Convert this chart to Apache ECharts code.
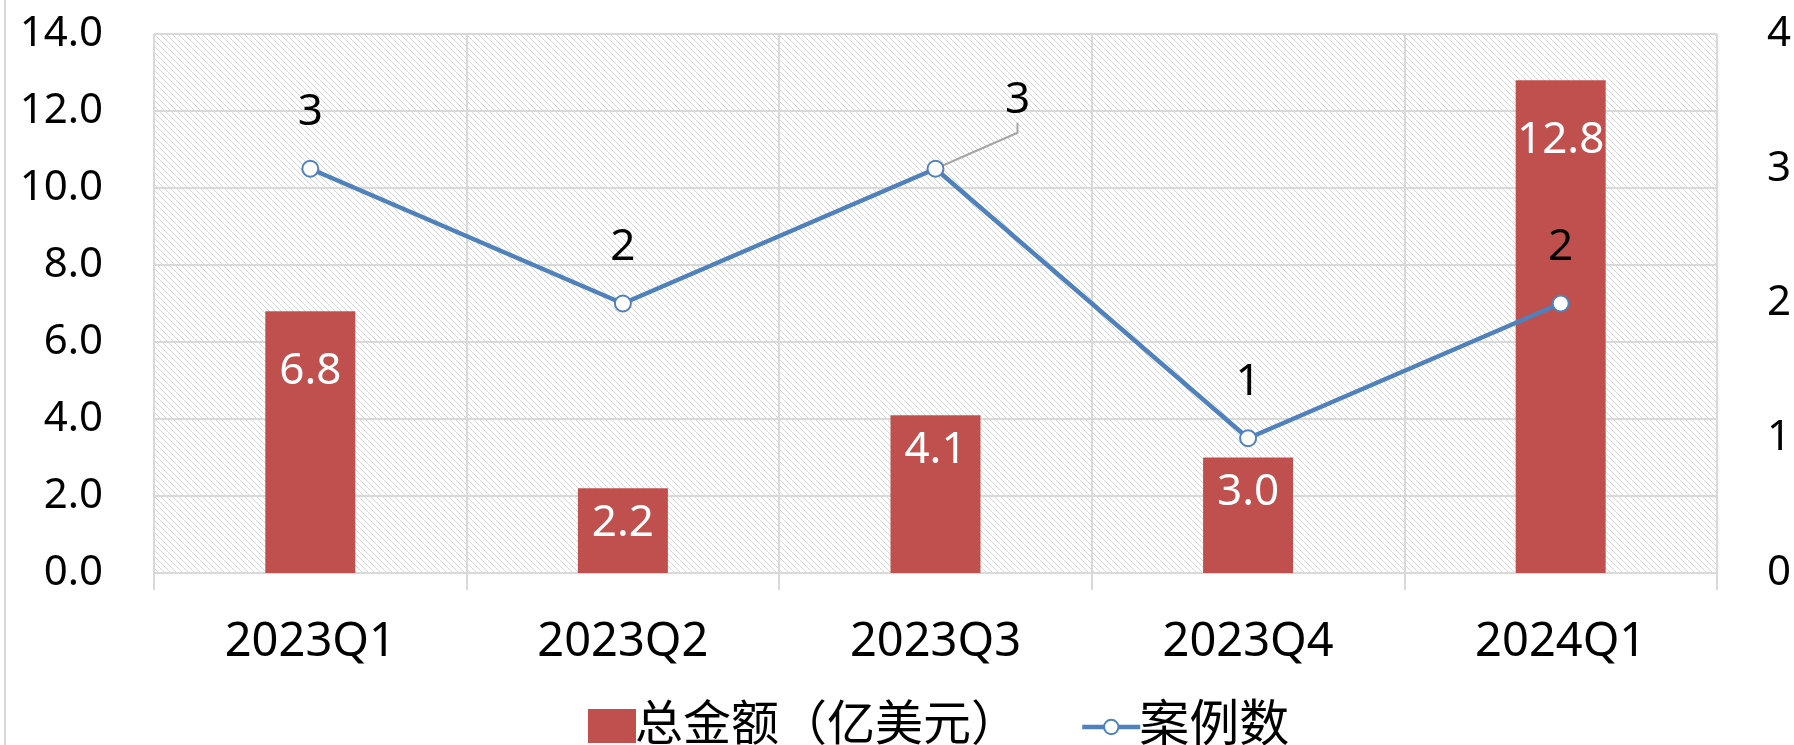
<!DOCTYPE html>
<html>
<head>
<meta charset="utf-8">
<script src="https://cdn.jsdelivr.net/npm/echarts@6/dist/echarts.min.js"></script>
<style>
  html, body { margin: 0; padding: 0; background: #fff; }
  #container { width: 1794px; height: 745px; }
</style>
</head>
<body>
<div id="container"></div>
<script>
// 数据
var categories = ["2023Q1", "2023Q2", "2023Q3", "2023Q4", "2024Q1"];
var amountValues = [6.8, 2.2, 4.1, 3.0, 12.8]; // 总金额（亿美元）
var caseValues = [3, 2, 3, 1, 2]; // 案例数

var FONT = "'Noto Sans', 'Noto Sans CJK SC', sans-serif";
var gridColor = "#d9d9d9";

// 斜线底纹
function hatch() {
  var c = document.createElement("canvas");
  c.width = 6;
  c.height = 6;
  var ctx = c.getContext("2d");
  ctx.fillStyle = "#ffffff";
  ctx.fillRect(0, 0, 6, 6);
  ctx.strokeStyle = "#d6d6d6";
  ctx.lineWidth = 1;
  ctx.beginPath();
  ctx.moveTo(-1, -1);
  ctx.lineTo(7, 7);
  ctx.moveTo(-1, 5);
  ctx.lineTo(1, 7);
  ctx.moveTo(5, -1);
  ctx.lineTo(7, 1);
  ctx.stroke();
  return c;
}

// 只有第三个点的标签带引导线
var caseData = caseValues.map(function (v, i) {
  return i === 2 ? { value: v, labelLine: { show: true } } : v;
});

var myChart = echarts.init(document.getElementById("container"));
myChart.setOption({
  animation: false,
  textStyle: { fontFamily: FONT },
  grid: {
    left: 154,
    right: 77,
    top: 34,
    bottom: 172,
    show: true,
    borderWidth: 0,
    backgroundColor: { image: hatch(), repeat: "repeat" }
  },
  graphic: [
    {
      type: "line",
      shape: { x1: 5, y1: 0, x2: 5, y2: 745 },
      style: { stroke: "#d9d9d9", lineWidth: 2 }
    }
  ],
  legend: [
    {
      left: 583,
      top: 697,
      itemWidth: 48,
      itemHeight: 34,
      textStyle: { fontSize: 48, color: "#000", fontFamily: FONT, padding: [0, 0, 0, -6] },
      data: [{ name: "总金额（亿美元）", icon: "rect" }]
    },
    {
      left: 1075,
      top: 697,
      itemWidth: 58,
      itemHeight: 18,
      lineStyle: { width: 4.5 },
      textStyle: { fontSize: 50, color: "#000", fontFamily: FONT, padding: [0, 0, 0, -6] },
      data: ["案例数"]
    }
  ],
  xAxis: {
    type: "category",
    data: categories,
    boundaryGap: true,
    axisLine: { show: true, lineStyle: { color: gridColor, width: 2 } },
    axisTick: { show: true, length: 17, lineStyle: { color: gridColor, width: 2 } },
    axisLabel: { fontSize: 47, color: "#000", margin: 46, fontFamily: FONT },
    splitLine: { show: true, lineStyle: { color: gridColor, width: 2 } }
  },
  yAxis: [
    {
      type: "value",
      min: 0,
      max: 14,
      interval: 2,
      axisLine: { show: false },
      axisTick: { show: false },
      axisLabel: {
        fontSize: 42,
        color: "#000",
        margin: 51,
        fontFamily: FONT,
        formatter: function (v) { return v.toFixed(1); }
      },
      splitLine: { show: true, lineStyle: { color: gridColor, width: 2 } }
    },
    {
      type: "value",
      min: 0,
      max: 4,
      interval: 1,
      axisLine: { show: false },
      axisTick: { show: false },
      axisLabel: { fontSize: 42, color: "#000", margin: 50, fontFamily: FONT },
      splitLine: { show: false }
    }
  ],
  series: [
    {
      name: "总金额（亿美元）",
      type: "bar",
      data: amountValues,
      barWidth: 90,
      itemStyle: { color: "#C0504D" },
      label: {
        show: true,
        position: "insideTop",
        distance: 13,
        color: "#fff",
        fontSize: 44,
        fontFamily: FONT,
        formatter: function (p) { return p.value.toFixed(1); }
      },
      labelLayout: function (p) {
        if (p.dataIndex === 0 || p.dataIndex === 4) {
          return { dy: 25 };
        }
      },
      z: 2
    },
    {
      name: "案例数",
      type: "line",
      yAxisIndex: 1,
      data: caseData,
      symbol: "emptyCircle",
      symbolSize: 16,
      lineStyle: { color: "#4F81BD", width: 4.5 },
      itemStyle: { color: "#4F81BD", borderWidth: 3 },
      label: {
        show: true,
        position: "top",
        distance: 25,
        color: "#000",
        fontSize: 44,
        fontFamily: FONT
      },
      labelLayout: function (p) {
        if (p.dataIndex === 2) {
          return { dx: 82, dy: -12 };
        }
      },
      labelLine: {
        show: false,
        length2: 10,
        lineStyle: { color: "#a6a6a6", width: 2 }
      },
      z: 3
    }
  ]
});
</script>
</body>
</html>
